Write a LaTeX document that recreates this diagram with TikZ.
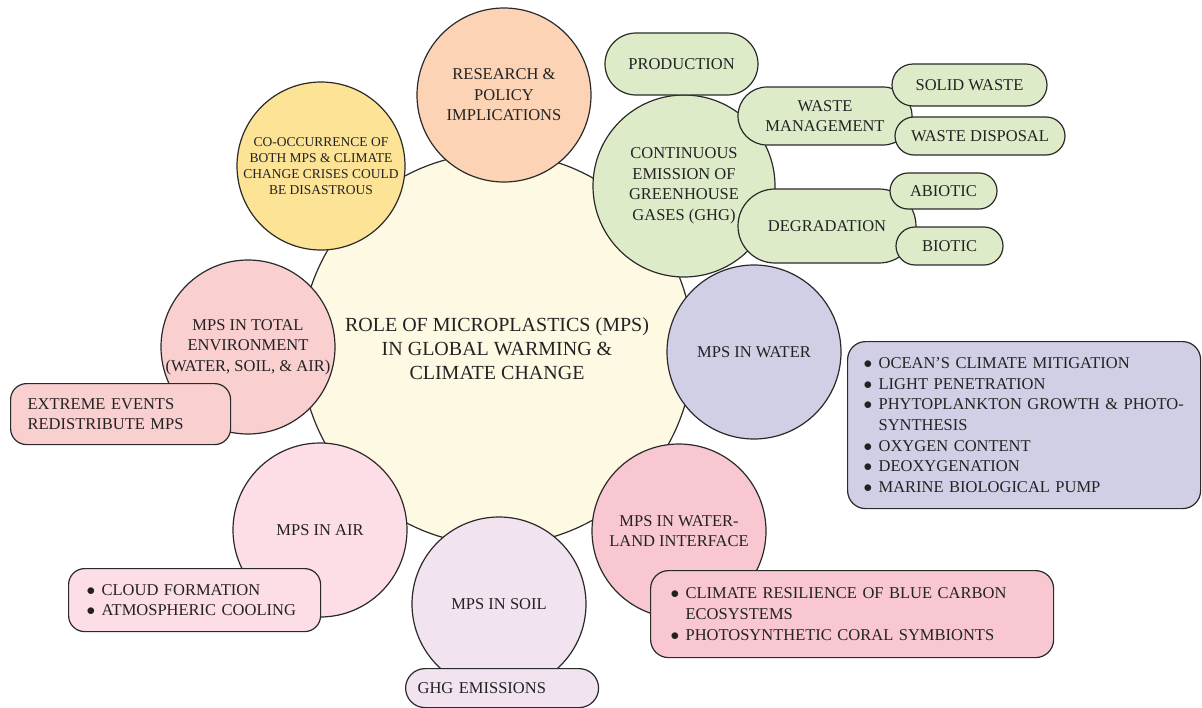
\documentclass[tikz,border=0pt]{standalone}
\usepackage{fontspec}
\setmainfont{Liberation Serif}
\usetikzlibrary{positioning}

\definecolor{linegray}{HTML}{2A2A2A}
\definecolor{txtgray}{HTML}{222222}
\definecolor{hubfill}{HTML}{FEF9E3}
\definecolor{researchfill}{HTML}{FCD4B5}
\definecolor{cooccfill}{HTML}{FDE395}
\definecolor{ghgfill}{HTML}{DEEBC9}
\definecolor{waterfill}{HTML}{D1CFE5}
\definecolor{landfill}{HTML}{F8C7D2}
\definecolor{soilfill}{HTML}{F1E3EF}
\definecolor{airfill}{HTML}{FDDDE6}
\definecolor{envfill}{HTML}{F9CFD0}

\newcommand{\bitem}[1]{\mbox{\makebox[15pt][l]{$\bullet$}#1}}
\newcommand{\bcont}[1]{\mbox{\hspace*{15pt}#1}}

\tikzset{
  hub/.style={circle,draw=linegray,line width=1.2pt,fill=hubfill,minimum size=392pt,inner sep=0pt,align=center,text=txtgray,font=\fontsize{20}{24}\selectfont},
  sat/.style={circle,draw=linegray,line width=1.2pt,minimum size=#1,inner sep=0pt,align=center,text=txtgray,font=\fontsize{16.5}{20.5}\selectfont},
  pill/.style={rectangle,draw=linegray,line width=1.2pt,fill=ghgfill,inner sep=0pt,align=center,text=txtgray,font=\fontsize{16.5}{20}\selectfont},
  note/.style={rectangle,draw=linegray,line width=1.2pt,rounded corners=16pt,anchor=north west,inner ysep=0pt,align=left,text=txtgray,font=\fontsize{16.5}{20.6}\selectfont}
}

\begin{document}
\begin{tikzpicture}[x=1pt,y=-1pt]
\useasboundingbox (0,0) rectangle (1202,707);

% Central topic
\node[hub] (hub) at (497,349) {ROLE OF MICROPLASTICS (MPS)\\IN GLOBAL WARMING \&\\CLIMATE CHANGE};

% Satellite circles
\foreach \nm/\x/\y/\clr/\sz/\txt in {
    research/504/95/researchfill/174/{RESEARCH \&\\POLICY\\IMPLICATIONS},
    ghg/684/186/ghgfill/182/{CONTINUOUS\\EMISSION OF\\GREENHOUSE\\GASES (GHG)},
    water/754/352/waterfill/174/{MPS IN WATER},
    land/679/531/landfill/174/{MPS IN WATER-\\LAND INTERFACE},
    soil/499/604/soilfill/174/{MPS IN SOIL},
    air/320/530/airfill/174/{MPS IN AIR},
    env/248/347/envfill/174/{MPS IN TOTAL\\ENVIRONMENT\\(WATER, SOIL, \& AIR)}} {
    \node[sat=\sz pt,fill=\clr] (\nm) at (\x,\y) {\txt};
}
\node[sat=168pt,fill=cooccfill,font=\fontsize{13.5}{16}\selectfont] (coocc) at (321,166) {CO-OCCURRENCE OF\\BOTH MPS \& CLIMATE\\CHANGE CRISES COULD\\BE DISASTROUS};

% Sources of GHG
\node[pill,minimum width=153pt,minimum height=62pt,rounded corners=31pt] (prod) at (681.5,64) {PRODUCTION};
\node[pill,minimum width=174pt,minimum height=58pt,rounded corners=29pt] (waste) at (825,116) {WASTE\\MANAGEMENT};
\node[pill,minimum width=155pt,minimum height=42pt,rounded corners=21pt] (solid) at (969.5,85) {SOLID WASTE};
\node[pill,minimum width=170pt,minimum height=38pt,rounded corners=19pt] (disposal) at (980,136) {WASTE DISPOSAL};
\node[pill,minimum width=178pt,minimum height=74pt,rounded corners=37pt] (degr) at (827,226) {DEGRADATION};
\node[pill,minimum width=107pt,minimum height=36pt,rounded corners=18pt] (abiotic) at (943.5,191) {ABIOTIC};
\node[pill,minimum width=107pt,minimum height=38pt,rounded corners=19pt] (biotic) at (949.5,246) {BIOTIC};

% Notes
\node[note,fill=envfill,inner xsep=17pt,text width=186pt,minimum height=61pt] (extreme) at (10,383) {EXTREME EVENTS\\REDISTRIBUTE MPS};
\node[note,fill=airfill,inner xsep=18pt,text width=216pt,minimum height=63pt] (cloud) at (68,568) {\bitem{CLOUD FORMATION}\\\bitem{ATMOSPHERIC COOLING}};
\node[note,fill=soilfill,rounded corners=19.5pt,inner xsep=12pt,text width=169pt,minimum height=39pt] (emis) at (405,668) {GHG EMISSIONS};
\node[note,fill=landfill,inner xsep=20pt,text width=363pt,minimum height=87pt,rounded corners=18pt] (carbon) at (650,570) {\bitem{CLIMATE RESILIENCE OF BLUE CARBON}\\\bcont{ECOSYSTEMS}\\\bitem{PHOTOSYNTHETIC CORAL SYMBIONTS}};
\node[note,fill=waterfill,inner xsep=16pt,text width=321pt,minimum height=167pt,rounded corners=18pt] (ocean) at (847,341) {\bitem{OCEAN’S CLIMATE MITIGATION}\\\bitem{LIGHT PENETRATION}\\\bitem{PHYTOPLANKTON GROWTH \& PHOTO-}\\\bcont{SYNTHESIS}\\\bitem{OXYGEN CONTENT}\\\bitem{DEOXYGENATION}\\\bitem{MARINE BIOLOGICAL PUMP}};

\end{tikzpicture}
\end{document}
